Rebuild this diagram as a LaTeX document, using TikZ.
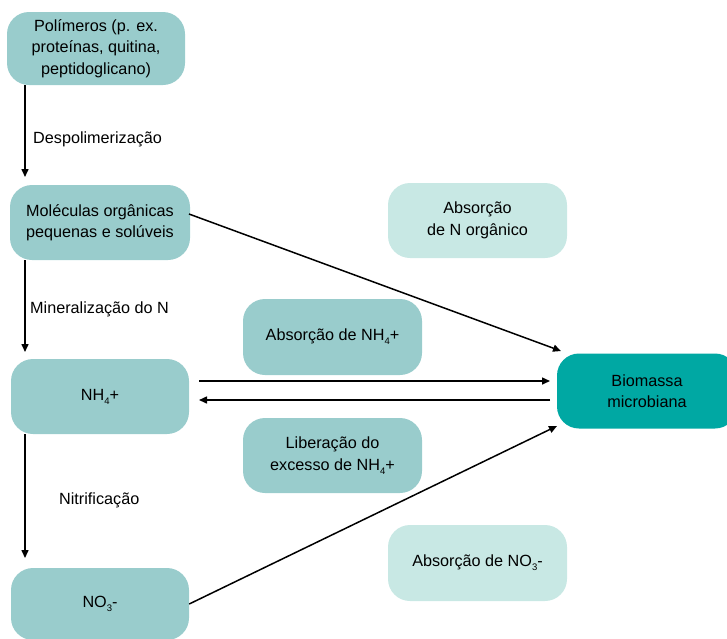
\documentclass[tikz,border=0pt]{standalone}
\usepackage{fontspec}
\setmainfont{Liberation Sans}
\usetikzlibrary{arrows.meta}
\definecolor{midteal}{RGB}{153,204,204}
\definecolor{lightteal}{RGB}{200,232,228}
\definecolor{darkteal}{RGB}{0,168,163}
\newcommand{\lowsub}[1]{\raisebox{-0.45ex}{\fontsize{9.5}{10}\selectfont #1}}
\begin{document}
\begin{tikzpicture}[x=1pt,y=-1pt,
  box/.style={rounded corners=22pt, minimum width=179pt, minimum height=75pt, align=center, inner sep=0pt,
    font=\fontsize{16.2}{21.5}\selectfont, text=black},
  midbox/.style={box, fill=midteal},
  lightbox/.style={box, fill=lightteal},
  darkbox/.style={box, fill=darkteal},
  lbl/.style={anchor=west, inner sep=0pt, font=\fontsize{16.2}{21.5}\selectfont},
  arr/.style={line width=1.5pt, -{Triangle[length=8pt,width=7pt]}},
  ln/.style={line width=1.5pt}
]
\useasboundingbox (0,0) rectangle (727,638);
\begin{scope}
\clip (0,0) rectangle (727,638);
\node[midbox, minimum width=178pt, minimum height=73pt] (poly) at (96,48.5) {Polímeros (p. ex.\\proteínas, quitina,\\peptidoglicano)};
\node[midbox, minimum width=180pt] (mol) at (100,222.5) {Moléculas orgânicas\\pequenas e solúveis};
\node[midbox, minimum width=178pt] (nh4) at (100,396.5) {NH\lowsub{4}+};
\node[midbox, minimum width=178pt, minimum height=72pt] (no3) at (100,604) {NO\lowsub{3}-};
\node[darkbox, minimum width=180pt, minimum height=75pt] (bio) at (647,391) {Biomassa\\microbiana};
\node[lightbox] (absN) at (477.5,220.5) {Absorção\\de N orgânico};
\node[midbox, minimum height=76pt] (absNH4) at (332.5,337) {Absorção de NH\lowsub{4}+};
\node[midbox] (lib) at (332.5,455.5) {Liberação do\\excesso de NH\lowsub{4}+};
\node[lightbox, minimum height=76pt] (absNO3) at (477.5,563) {Absorção de NO\lowsub{3}-};
\end{scope}

\coordinate (t1) at (25,177);
\coordinate (t2) at (25,352);
\coordinate (t3) at (25,558);
\draw[arr] (poly.south -| t1) -- (t1);
\draw[arr] (mol.south -| t2) -- (t2);
\draw[arr] (nh4.south -| t3) -- (t3);

\node[lbl] (l1) at (33,139) {Despolimerização};
\node[lbl] (l2) at (30,309) {Mineralização do N};
\node[lbl] (l3) at (59,500) {Nitrificação};

\coordinate (m1) at (189,214);
\coordinate (m2) at (561,351);
\draw[arr] (m1) -- (m2);

\coordinate (h1) at (199,381);
\coordinate (h2) at (550,381);
\draw[arr] (h1) -- (h2);
\coordinate (h3) at (550,400);
\coordinate (h4) at (199,400);
\draw[arr] (h3) -- (h4);

\coordinate (n2) at (557,426);
\draw[arr] (no3.east) -- (n2);
\end{tikzpicture}
\end{document}
